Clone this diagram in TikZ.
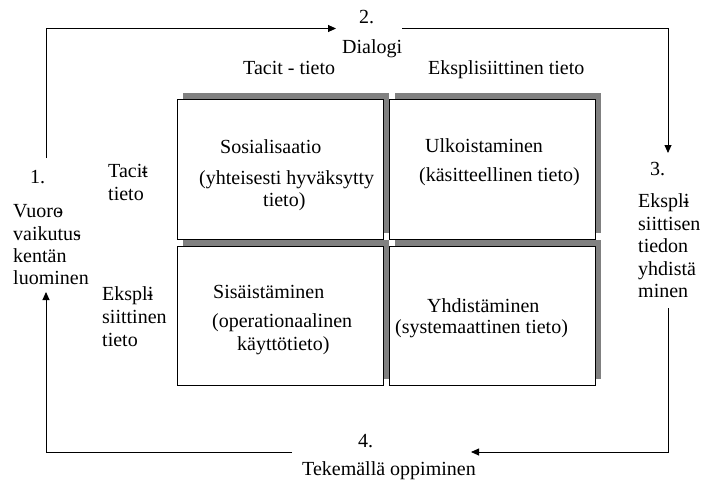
\documentclass[tikz,border=0pt]{standalone}
\usepackage{fontspec}
\setmainfont{Liberation Serif}
\usetikzlibrary{arrows.meta}
\begin{document}
\begin{tikzpicture}[x=1pt,y=-1pt,
  txt/.style={anchor=base west,inner sep=0pt,font=\fontsize{20}{22}\selectfont},
  cell/.style={draw=black,line width=0.9pt,fill=white,inner sep=0pt,minimum width=206pt},
  flow/.style={draw=black,line width=0.9pt,-{Triangle[length=8pt,width=7pt]}},
  shade/.style={fill=black!50}
]
\useasboundingbox (0,0) rectangle (703,482);

% the four quadrant cells
\coordinate (tl1) at (177,99);  \coordinate (tl2) at (383,239);
\coordinate (tr1) at (389,99);  \coordinate (tr2) at (595,239);
\coordinate (bl1) at (177,246); \coordinate (bl2) at (383,385);
\coordinate (br1) at (389,246); \coordinate (br2) at (595,385);

% shadows behind the cells
\foreach \a/\b in {tl1/tl2,tr1/tr2,bl1/bl2,br1/br2}
  \fill[shade] ([shift={(6,-6)}]\a) rectangle ([shift={(6,-6)}]\b);

\node[cell,minimum height=140pt] (soc) at (280,169) {};
\node[cell,minimum height=140pt] (ext) at (492,169) {};
\node[cell,minimum height=139pt] (int) at (280,315.5) {};
\node[cell,minimum height=139pt] (com) at (492,315.5) {};

% texts inside the cells
\node[txt] (socA) at (220,153) {Sosialisaatio};
\node[txt] (socB) at (199,184) {(yhteisesti hyväksytty};
\node[txt] (socC) at (263,206) {tieto)};
\node[txt] (extA) at (425,152) {Ulkoistaminen};
\node[txt] (extB) at (419,181) {(käsitteellinen tieto)};
\node[txt] (intA) at (213,298) {Sisäistäminen};
\node[txt] (intB) at (212,327) {(operationaalinen};
\node[txt] (intC) at (237,350) {käyttötieto)};
\node[txt] (comA) at (427,312) {Yhdistäminen};
\node[txt] (comB) at (395,333) {(systemaattinen tieto)};

% column and row headings
\node[txt] (colA) at (243,74) {Tacit - tieto};
\node[txt] (colB) at (428,74) {Eksplisiittinen tieto};
\node[txt] (rowA1) at (108,177) {Tacit\llap{-}};
\node[txt] (rowA2) at (108,200) {tieto};
\node[txt] (rowB1) at (102,300) {Ekspli\llap{-}};
\node[txt] (rowB2) at (102,323) {siittinen};
\node[txt] (rowB3) at (102,346) {tieto};

% phase labels
\node[txt] (p1) at (30,183) {1.};
\node[txt] (p1a) at (13,217) {Vuoro\llap{-}};
\node[txt] (p1b) at (13,240) {vaikutus\llap{-}};
\node[txt] (p1c) at (13,262) {kentän};
\node[txt] (p1d) at (13,284) {luominen};

\node[txt] (p2) at (359,23) {2.};
\node[txt] (p2a) at (342,53) {Dialogi};

\node[txt] (p3) at (650,175) {3.};
\node[txt] (p3a) at (638,207) {Ekspli\llap{-}};
\node[txt] (p3b) at (638,230) {siittisen};
\node[txt] (p3c) at (638,252) {tiedon};
\node[txt] (p3d) at (638,275) {yhdistä};
\node[txt] (p3e) at (638,297) {minen};

\node[txt] (p4) at (358,447) {4.};
\node[txt] (p4a) at (302,475) {Tekemällä oppiminen};

% cycle connectors
\coordinate (c1s) at (46,158);   \coordinate (c1e) at (336,28.5);
\coordinate (c2s) at (402,28.5); \coordinate (c2e) at (668,153);
\coordinate (c3s) at (668,308);  \coordinate (c3e) at (471,452);
\coordinate (c4s) at (292,452);  \coordinate (c4e) at (46,292);

\draw[flow] (c1s) |- (c1e);
\draw[flow] (c2s) -| (c2e);
\draw[flow] (c3s) |- (c3e);
\draw[flow] (c4s) -| (c4e);
\end{tikzpicture}
\end{document}
